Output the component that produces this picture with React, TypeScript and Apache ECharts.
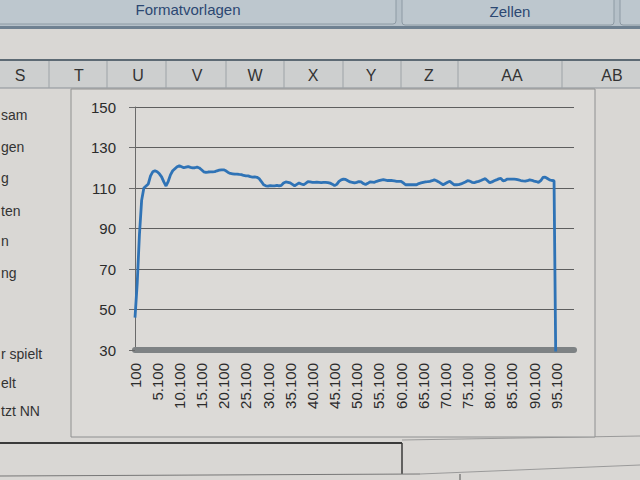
import React, { useEffect, useRef } from "react";
import * as echarts from "echarts";

// Category axis: row keys 100, 600, 1.100 ... (step 500), labels shown every 10th
const categoryStart = 100;
const categoryStep = 500;
const categoryCount = 199;
const categories: number[] = Array.from({ length: categoryCount }, (_, i) => categoryStart + i * categoryStep);

// Series values
const rampUp = [46, 63, 87, 104, 110, 111, 112, 116, 118, 118.5, 118, 117, 115.5, 113, 111, 113.3, 116.5, 118.5, 119.5, 120.5, 121, 120.5, 120, 120.3, 120.6, 120.2, 119.9, 120, 120.3];
const decline = [119.9, 119, 118, 117.7, 117.9, 118, 118, 118.1, 118.5, 118.8, 119, 119, 118.5, 117.7, 117.2, 117, 116.8, 116.9, 116.7, 116.6, 116.2, 116, 116, 115.6, 115.4, 115.5, 115.3, 114.6, 113.2, 111.6, 111.1, 110.9, 111.2, 111, 111.1, 111.3, 111, 111.3];
const middle = [112.5, 113, 112.8, 112.5, 111.8, 111.1, 111.8, 112.5, 112, 111.6, 112.3, 113.1, 113, 112.8, 112.8, 112.9, 112.8, 112.7, 112.8, 112.8, 112.7, 112.4, 111.9, 111.2, 111.8, 113.3, 114, 114.4, 114.2, 113.6, 113, 112.8, 112.5, 112.8, 113.2, 113, 112.2, 111.7, 112.3, 113, 112.9, 112.8, 113.3, 113.6, 113.9, 114.1, 113.9, 113.7, 113.7, 113.7, 113.5, 113.3, 113.3, 113.3];
const tail = [112.5, 111.6, 111.7, 111.6, 111.6, 111.7, 111.6, 112.2, 112.5, 112.8, 113, 113.1, 113.3, 113.6, 114, 113.6, 113, 112.3, 111.6, 112.2, 112.8, 113.3, 112.4, 111.6, 111.6, 111.7, 112, 112.5, 113, 113.6, 113.4, 112.8, 112.6, 113, 113.3, 113.7, 114.2, 114.6, 113.6, 112.6, 113, 113.6, 114, 114.5, 114.8, 113.5, 113.8, 114.4, 114.4, 114.4, 114.4, 114.3, 114, 113.7, 113.5, 113.4, 113.6, 114, 113.8, 113.4, 113.2, 112.8, 113.6, 115.2, 115.4, 114.7, 114, 113.7, 113.6];
const ending = [0];
const emptyRows = [null, null, null, null, null, null, null, null];

// Y axis ticks
const yMin = 30;
const yMax = 150;
const yStep = 20;

// Surrounding spreadsheet texts
const columnLetters = ["S", "T", "U", "V", "W", "X", "Y", "Z", "AA", "AB"];
const columnCenters = [20, 79, 138, 197, 255, 313, 371, 429, 512, 612];
const columnSeparators = [49, 107, 166, 226, 284, 343, 401, 458, 562];
const rowFragments = ["sam", "gen", "g", "ten", "n", "ng", "r spielt", "elt", "tzt NN"];
const rowFragmentY = [115, 147, 178, 211, 241, 273, 354, 383, 411];

const fmt = (v: any) => String(v).replace(/\B(?=(\d{3})+(?!\d))/g, ".");

export default function App() {
  const ref = useRef<HTMLDivElement>(null);
  useEffect(() => {
    if (!ref.current) return;
    const chart = echarts.init(ref.current, undefined, { renderer: "svg" });
    const values = [...rampUp, ...decline, ...middle, ...tail, ...ending, ...emptyRows];
    const font = "'Liberation Sans', Arial, sans-serif";

    const graphics: any[] = [
      // ribbon
      { type: "rect", z: -20, shape: { x: 0, y: 0, width: 640, height: 27 }, style: { fill: "#b5c0c8" } },
      { type: "rect", z: -19, shape: { x: -4, y: -8, width: 400, height: 32, r: 3 }, style: { fill: "#bdc7ce", stroke: "#8d9aa4", lineWidth: 1 } },
      { type: "rect", z: -19, shape: { x: 402, y: -8, width: 212, height: 33, r: 3 }, style: { fill: "#bdc7ce", stroke: "#8d9aa4", lineWidth: 1 } },
      { type: "rect", z: -19, shape: { x: 620, y: -8, width: 40, height: 33, r: 3 }, style: { fill: "#bdc7ce", stroke: "#8d9aa4", lineWidth: 1 } },
      { type: "text", z: -18, x: 188, y: 9, style: { text: "Formatvorlagen", fontSize: 15, fontFamily: font, fill: "#2c4872", align: "center", verticalAlign: "middle" } },
      { type: "text", z: -18, x: 510, y: 11, style: { text: "Zellen", fontSize: 15, fontFamily: font, fill: "#2c4872", align: "center", verticalAlign: "middle" } },
      { type: "rect", z: -19, shape: { x: 0, y: 26, width: 640, height: 3 }, style: { fill: "#6f8191" } },
      // column header row
      { type: "rect", z: -19, shape: { x: 0, y: 59, width: 640, height: 2 }, style: { fill: "#5d6a74" } },
      { type: "rect", z: -19, shape: { x: 0, y: 61, width: 640, height: 27 }, style: { fill: "#cdcfcf" } },
      { type: "line", z: -18, shape: { x1: 0, y1: 88, x2: 640, y2: 88 }, style: { stroke: "#8b9197", lineWidth: 1 } },
      ...columnSeparators.map((x) => ({ type: "line", z: -18, shape: { x1: x, y1: 61, x2: x, y2: 88 }, style: { stroke: "#9da3a7", lineWidth: 1 } })),
      ...columnLetters.map((t, i) => ({ type: "text", z: -18, x: columnCenters[i], y: 75, style: { text: t, fontSize: 16, fontFamily: font, fill: "#333", align: "center", verticalAlign: "middle" } })),
      // row texts cut off on the left
      ...rowFragments.map((t, i) => ({ type: "text", z: -18, x: 1, y: rowFragmentY[i], style: { text: t, fontSize: 14, fontFamily: font, fill: "#333", align: "left", verticalAlign: "middle" } })),
      // chart frame
      { type: "rect", z: -15, shape: { x: 71, y: 89, width: 524, height: 348 }, style: { fill: "#dcdad7", stroke: "#8f9090", lineWidth: 1 } },
      // cell lines below
      { type: "line", z: -18, shape: { x1: 0, y1: 443, x2: 402, y2: 443 }, style: { stroke: "#3a3a3a", lineWidth: 2 } },
      { type: "line", z: -18, shape: { x1: 402, y1: 443, x2: 402, y2: 474 }, style: { stroke: "#3a3a3a", lineWidth: 1.5 } },
      { type: "line", z: -18, shape: { x1: 402, y1: 440, x2: 640, y2: 436 }, style: { stroke: "#9a9a9a", lineWidth: 1 } },
      { type: "line", z: -18, shape: { x1: 0, y1: 476, x2: 420, y2: 474 }, style: { stroke: "#777", lineWidth: 1 } },
      { type: "line", z: -18, shape: { x1: 420, y1: 474, x2: 640, y2: 465 }, style: { stroke: "#9a9a9a", lineWidth: 1 } },
      { type: "line", z: -18, shape: { x1: 460, y1: 474, x2: 460, y2: 480 }, style: { stroke: "#555", lineWidth: 1 } },
    ];

    chart.setOption({
      animation: false,
      backgroundColor: "#d9d7d4",
      graphic: { elements: graphics },
      grid: { left: 135, top: 107, width: 439, height: 243, containLabel: false },
      xAxis: {
        type: "category",
        boundaryGap: false,
        data: categories,
        axisLine: { show: true, lineStyle: { color: "#7e8284", width: 6 } },
        axisTick: { show: false },
        splitLine: { show: false },
        axisLabel: {
          interval: 9,
          rotate: 90,
          margin: 13,
          fontSize: 15,
          fontFamily: font,
          color: "#2b2b2b",
          formatter: fmt,
        },
      },
      yAxis: {
        type: "value",
        min: yMin,
        max: yMax,
        interval: yStep,
        axisLine: { show: true, lineStyle: { color: "#6a6a6a", width: 1 } },
        axisTick: { show: true, length: 6, lineStyle: { color: "#6a6a6a" } },
        axisLabel: { margin: 19, fontSize: 15, fontFamily: font, color: "#2b2b2b" },
        splitLine: { show: true, lineStyle: { color: "#5e5e5e", width: 1 } },
      },
      series: [
        {
          type: "line",
          data: values,
          showSymbol: false,
          connectNulls: false,
          clip: true,
          lineStyle: { color: "#2f73b6", width: 2.8 },
          itemStyle: { color: "#2f73b6" },
        },
      ],
    });
    return () => chart.dispose();
  }, []);
  return (
    <div
      ref={ref}
      style={{ position: "fixed", left: 0, top: 0, width: 640, height: 480 }}
    />
  );
}
